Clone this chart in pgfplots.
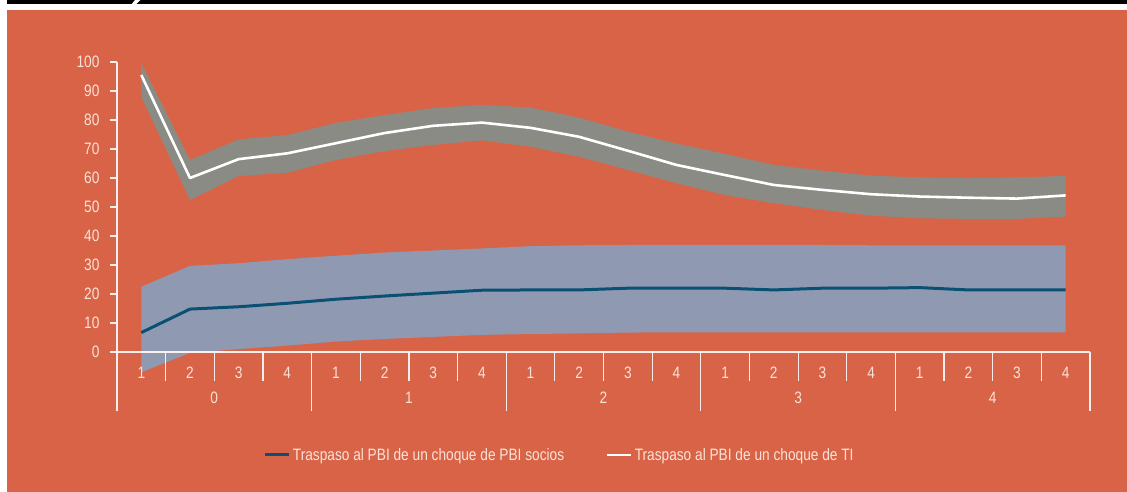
\documentclass[border=0pt]{standalone}
\usepackage{fontspec}
\setmainfont[FakeStretch=0.83]{Liberation Sans}
\usepackage{pgfplots}
\pgfplotsset{compat=1.18}
\usepackage{pgfplotstable}
\definecolor{bg}{RGB}{217,99,70}
\definecolor{txt}{RGB}{250,226,216}
\definecolor{greyband}{RGB}{139,139,133}
\definecolor{blueband}{RGB}{143,154,178}
\definecolor{blueline}{RGB}{10,80,115}
\definecolor{axl}{RGB}{252,240,235}
\newcommand\cf{\fontsize{16.5pt}{19pt}\selectfont}

% central lines
\pgfplotstableread{
x ti so
0 95.5 6.7
1 60.0 14.8
2 66.5 15.6
3 68.5 16.8
4 72.0 18.2
5 75.5 19.3
6 78.0 20.3
7 79.1 21.3
8 77.3 21.4
9 74.2 21.4
10 69.4 22.0
11 64.5 22.0
12 61.0 22.0
13 57.6 21.4
14 55.9 22.0
15 54.4 22.0
16 53.6 22.2
17 53.2 21.4
18 52.9 21.4
19 54.0 21.4
}\lines

% TI band: upper bound forward, lower bound backward
\pgfplotstableread{
x y
0 99.5
1 66.2
2 73.3
3 74.8
4 79.0
5 81.7
6 84.1
7 85.2
8 84.3
9 80.8
10 76.0
11 71.9
12 68.3
13 64.5
14 62.5
15 60.8
16 60.2
17 59.9
18 60.2
19 60.7
19 46.7
18 45.9
17 45.9
16 46.1
15 47.0
14 49.0
13 51.3
12 54.1
11 58.2
10 62.8
9 67.3
8 70.8
7 73.0
6 71.4
5 69.3
4 66.2
3 61.8
2 60.7
1 52.4
0 88.0
}\tiband

% socios band: upper bound forward, lower bound backward
\pgfplotstableread{
x y
0 22.5
1 29.7
2 30.6
3 32.0
4 33.2
5 34.3
6 35.0
7 35.7
8 36.5
9 36.8
10 36.9
11 36.9
12 36.9
13 36.9
14 36.9
15 36.8
16 36.8
17 36.8
18 36.8
19 36.8
19 6.8
18 6.8
17 6.8
16 6.8
15 6.8
14 6.8
13 6.8
12 6.8
11 6.8
10 6.7
9 6.4
8 6.2
7 5.9
6 5.2
5 4.5
4 3.6
3 2.2
2 1.0
1 -0.3
0 -7.0
}\soband

\begin{document}
\begin{tikzpicture}[x=1pt,y=1pt]
\fill[white] (0,0) rectangle (1127,492);
\fill[black] (6.5,487.7) rectangle (1127,492);
\fill[white] (131.5,487.7) -- (136,487.7) -- (140.5,492) -- (135,492) -- cycle;
\fill[bg] (6.5,0) rectangle (1127,482);
\begin{axis}[
  at={(117pt,140pt)}, anchor=south west,
  scale only axis, width=973pt, height=290pt,
  xmin=-0.5, xmax=19.5, ymin=0, ymax=100,
  clip=false, axis on top,
  axis x line*=bottom, axis y line*=left,
  axis line style={draw=axl, line width=1.2pt, -},
  ytick={0,10,...,100},
  xtick={0,...,19},
  xticklabels={1,2,3,4,1,2,3,4,1,2,3,4,1,2,3,4,1,2,3,4},
  xtick style={draw=none},
  ytick style={draw=axl, line width=1.2pt},
  major tick length=7pt, tick align=outside,
  tick label style={font=\cf, text=txt},
  /pgf/number format/assume math mode=true,
  yticklabel style={xshift=-7pt},
  xticklabel style={yshift=-4.5pt},
  legend style={at={(axis description cs:0.455,-0.355)}, anchor=center,
    draw=none, fill=none, font=\cf, text=txt, legend columns=2,
    /tikz/every even column/.append style={column sep=40pt}},
  legend image code/.code={\draw[#1] (0pt,0pt) -- (24pt,0pt);},
]
\addplot[fill=greyband, draw=none, forget plot] table[x=x,y=y]{\tiband} -- cycle;
\addplot[fill=blueband, draw=none, forget plot] table[x=x,y=y]{\soband} -- cycle;
\addplot[blueline, line width=3pt, line join=round] table[x=x,y=so]{\lines};
\addlegendentry{Traspaso al PBI de un choque de PBI socios}
\addplot[white, line width=2.6pt, line join=round] table[x=x,y=ti]{\lines};
\addlegendentry{Traspaso al PBI de un choque de TI}
\pgfplotsinvokeforeach{0.5,1.5,2.5,4.5,5.5,6.5,8.5,9.5,10.5,12.5,13.5,14.5,16.5,17.5,18.5}{
  \draw[axl, line width=1.2pt] (axis cs:#1,0) -- ++(0pt,-29pt);
}
\pgfplotsinvokeforeach{-0.5,3.5,7.5,11.5,15.5,19.5}{
  \draw[axl, line width=1.2pt] (axis cs:#1,0) -- ++(0pt,-59pt);
}
\node[font=\cf, text=txt] at (axis cs:1.5,0) [yshift=-46pt] {0};
\node[font=\cf, text=txt] at (axis cs:5.5,0) [yshift=-46pt] {1};
\node[font=\cf, text=txt] at (axis cs:9.5,0) [yshift=-46pt] {2};
\node[font=\cf, text=txt] at (axis cs:13.5,0) [yshift=-46pt] {3};
\node[font=\cf, text=txt] at (axis cs:17.5,0) [yshift=-46pt] {4};
\end{axis}
\end{tikzpicture}
\end{document}
